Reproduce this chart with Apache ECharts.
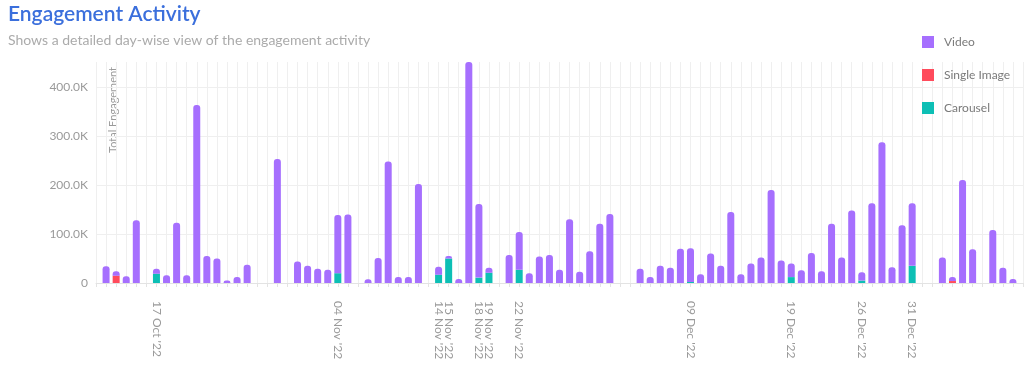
<!DOCTYPE html>
<html>
<head>
<meta charset="utf-8">
<script src="https://cdn.jsdelivr.net/npm/echarts@6/dist/echarts.min.js"></script>
<style>
  html, body { margin: 0; padding: 0; background: #ffffff; }
  #chart { width: 1024px; height: 374px; }
</style>
</head>
<body>
<div id="chart"></div>
<script>
// Day-wise categories (12 Oct '22 .. 10 Jan '23)
const days = [
  "12 Oct '22","13 Oct '22","14 Oct '22","15 Oct '22","16 Oct '22","17 Oct '22","18 Oct '22","19 Oct '22","20 Oct '22","21 Oct '22",
  "22 Oct '22","23 Oct '22","24 Oct '22","25 Oct '22","26 Oct '22","27 Oct '22","28 Oct '22","29 Oct '22","30 Oct '22","31 Oct '22",
  "01 Nov '22","02 Nov '22","03 Nov '22","04 Nov '22","05 Nov '22","06 Nov '22","07 Nov '22","08 Nov '22","09 Nov '22","10 Nov '22",
  "11 Nov '22","12 Nov '22","13 Nov '22","14 Nov '22","15 Nov '22","16 Nov '22","17 Nov '22","18 Nov '22","19 Nov '22","20 Nov '22",
  "21 Nov '22","22 Nov '22","23 Nov '22","24 Nov '22","25 Nov '22","26 Nov '22","27 Nov '22","28 Nov '22","29 Nov '22","30 Nov '22",
  "01 Dec '22","02 Dec '22","03 Dec '22","04 Dec '22","05 Dec '22","06 Dec '22","07 Dec '22","08 Dec '22","09 Dec '22","10 Dec '22",
  "11 Dec '22","12 Dec '22","13 Dec '22","14 Dec '22","15 Dec '22","16 Dec '22","17 Dec '22","18 Dec '22","19 Dec '22","20 Dec '22",
  "21 Dec '22","22 Dec '22","23 Dec '22","24 Dec '22","25 Dec '22","26 Dec '22","27 Dec '22","28 Dec '22","29 Dec '22","30 Dec '22",
  "31 Dec '22","01 Jan '23","02 Jan '23","03 Jan '23","04 Jan '23","05 Jan '23","06 Jan '23","07 Jan '23","08 Jan '23","09 Jan '23",
  "10 Jan '23"
];

// Engagement per day (absolute numbers)
const videoValues = [
  34000, 9000, 14000, 128000, 0, 10000, 16000, 123000, 16000, 363000,
  55000, 50000, 5000, 12000, 37000, 0, 0, 253000, 0, 44000,
  35000, 29000, 27000, 119000, 140000, 0, 7500, 51000, 248000, 12000,
  12000, 202000, 0, 16000, 5000, 8000, 451000, 150000, 10000, 0,
  57000, 77000, 20000, 54000, 57000, 27000, 130000, 23000, 65000, 121000,
  141000, 0, 0, 29000, 12000, 35000, 31000, 70000, 69000, 18000,
  60000, 35000, 145000, 18000, 40000, 52000, 190000, 46000, 28000, 26000,
  61000, 24000, 121000, 52000, 148000, 17000, 163000, 287000, 32000, 118000,
  128000, 0, 0, 52000, 8000, 210000, 69000, 0, 108000, 31000,
  8000
];
const singleImageValues = [
  0, 15000, 0, 0, 0, 0, 0, 0, 0, 0,
  0, 0, 0, 0, 0, 0, 0, 0, 0, 0,
  0, 0, 0, 0, 0, 0, 0, 0, 0, 0,
  0, 0, 0, 0, 0, 0, 0, 0, 0, 0,
  0, 0, 0, 0, 0, 0, 0, 0, 0, 0,
  0, 0, 0, 0, 0, 0, 0, 0, 0, 0,
  0, 0, 0, 0, 0, 0, 0, 0, 0, 0,
  0, 0, 0, 0, 0, 0, 0, 0, 0, 0,
  0, 0, 0, 0, 4000, 0, 0, 0, 0, 0,
  0
];
const carouselValues = [
  0, 0, 0, 0, 0, 19000, 0, 0, 0, 0,
  0, 0, 0, 0, 0, 0, 0, 0, 0, 0,
  0, 0, 0, 20000, 0, 0, 0, 0, 0, 0,
  0, 0, 0, 17000, 50000, 0, 0, 11000, 21000, 0,
  0, 27000, 0, 0, 0, 0, 0, 0, 0, 0,
  0, 0, 0, 0, 0, 0, 0, 0, 2000, 0,
  0, 0, 0, 0, 0, 0, 0, 0, 12000, 0,
  0, 0, 0, 0, 0, 5000, 0, 0, 0, 0,
  35000, 0, 0, 0, 0, 0, 0, 0, 0, 0,
  0
];

// Dates that carry an x-axis label
const tickLabels = ["17 Oct '22","04 Nov '22","14 Nov '22","15 Nov '22","18 Nov '22","19 Nov '22",
                    "22 Nov '22","09 Dec '22","19 Dec '22","26 Dec '22","31 Dec '22"];

const seriesNames = ['Video', 'Single Image', 'Carousel'];
const colors = { 'Video': '#a66ffe', 'Single Image': '#ff4b5c', 'Carousel': '#0dbfb5' };

const FONT = 'Lato, "Open Sans", sans-serif';

// rows: [value, day position] so that the value dimension is the stacked one
function toRows(arr) { return arr.map((v, i) => [v, i + 1]); }

const chart = echarts.init(document.getElementById('chart'), null, { renderer: 'canvas' });

function barSeries(name, values, extraStyle) {
  return {
    name: name, type: 'bar', stack: 'total', barWidth: 7,
    encode: { x: 1, y: 0 },
    itemStyle: Object.assign({ color: colors[name] }, extraStyle || {}),
    data: toRows(values)
  };
}

chart.setOption({
  animation: false,
  backgroundColor: '#ffffff',
  textStyle: { fontFamily: FONT },
  title: [
    { text: 'Engagement Activity', left: 8, top: 4, padding: 0,
      textStyle: { color: '#3b6fdc', fontSize: 21, fontWeight: 600, fontFamily: FONT } },
    { text: 'Shows a detailed day-wise view of the engagement activity', left: 8, top: 33, padding: 0,
      textStyle: { color: '#ababab', fontSize: 14, fontWeight: 'normal', fontFamily: FONT } }
  ],
  legend: {
    data: seriesNames,
    orient: 'vertical',
    left: 922, top: 36, padding: 0,
    itemWidth: 12, itemHeight: 12, itemGap: 21,
    icon: 'rect',
    textStyle: { color: '#7a7a7a', fontSize: 12, fontFamily: FONT, padding: [0, 0, 0, 5] }
  },
  graphic: [{
    type: 'text',
    x: 113, y: 153,
    rotation: Math.PI / 2,
    style: { text: 'Total Engagement', fill: '#9a9a9a', fontSize: 11, fontFamily: FONT,
             align: 'left', verticalAlign: 'middle' }
  }],
  grid: { left: 96, right: 1, top: 62, bottom: 91, containLabel: false },
  xAxis: {
    type: 'value',
    min: 0, max: days.length + 1, interval: 1,
    axisLine: { show: true, lineStyle: { color: '#e3e3e3' } },
    axisTick: { show: true, length: 4, lineStyle: { color: '#e3e3e3' } },
    splitLine: { show: true, lineStyle: { color: '#efefef', width: 1 } },
    axisLabel: {
      rotate: -90, margin: 18, color: '#9a9a9a', fontSize: 12, fontFamily: FONT,
      formatter: function (v) {
        const d = days[v - 1];
        return (d && tickLabels.indexOf(d) >= 0) ? d : '';
      }
    }
  },
  yAxis: {
    type: 'value',
    min: 0, max: 451000, interval: 100000,
    axisLine: { show: false },
    axisTick: { show: false },
    splitLine: { show: true, showMaxLine: false, lineStyle: { color: '#efefef', width: 1 } },
    axisLabel: {
      margin: 8, color: '#9a9a9a', fontSize: 12, fontFamily: FONT, showMaxLabel: false,
      formatter: function (v) { return v === 0 ? '0' : (v / 1000).toFixed(1) + 'K'; }
    }
  },
  series: [
    barSeries('Carousel', carouselValues),
    barSeries('Single Image', singleImageValues),
    barSeries('Video', videoValues, { borderRadius: [3, 3, 0, 0] })
  ]
});
</script>
</body>
</html>
